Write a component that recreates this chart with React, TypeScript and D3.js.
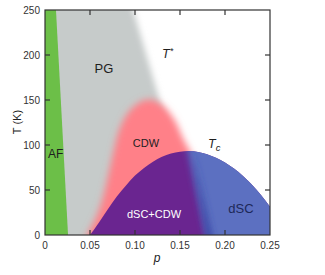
import React from "react";
import * as d3 from "d3";

// Phase boundaries of the cuprate phase diagram (hole doping p, temperature T in K)
const afP = [0.0256, 0.0122];
const afT = [0, 250];

const tStarP = [0.171, 0.098];
const tStarT = [0, 250];

const cdwP = [0.047, 0.057, 0.064, 0.07, 0.076, 0.083, 0.094, 0.108, 0.12, 0.133, 0.145, 0.153, 0.16, 0.166];
const cdwT = [0, 20, 40, 65, 92, 118, 138, 149, 150, 142, 126, 108, 95, 84];

const scP = [0.05, 0.06, 0.07, 0.08, 0.09, 0.1, 0.11, 0.12, 0.13, 0.14, 0.15, 0.16, 0.17, 0.18, 0.19, 0.2, 0.21, 0.22, 0.23, 0.24, 0.25, 0.26, 0.27];
const scT = [0, 14, 29, 43, 55, 66, 74.5, 81.5, 87, 90.5, 92.5, 93.3, 92.3, 89.8, 85.8, 80.5, 73.8, 65.5, 55.8, 44.5, 31.5, 17, 0];

// dSC+CDW / dSC crossover
const crossP = [0.178, 0.158];
const crossT = [0, 95];

const xTicks = [0, 0.05, 0.1, 0.15, 0.2, 0.25];
const xTickLabels = ["0", "0.05", "0.10", "0.15", "0.20", "0.25"];
const yTicks = [0, 50, 100, 150, 200, 250];
const yTickLabels = ["0", "50", "100", "150", "200", "250"];

const W = 325;
const H = 275;
const FONT = "'Liberation Sans', Arial, sans-serif";

export default function App() {
  const x = d3.scaleLinear().domain([0, 0.25]).range([45, 270]);
  const y = d3.scaleLinear().domain([0, 250]).range([235, 10]);

  // point on the straight line through two (p,T) pairs at temperature t
  const along = (ps: number[], ts: number[], t: number) =>
    ps[0] + ((ps[1] - ps[0]) * (t - ts[0])) / (ts[1] - ts[0]);

  const poly = (pts: [number, number][]) =>
    d3.line<[number, number]>().x((d) => x(d[0])).y((d) => y(d[1]))(pts) + "Z";

  const greenPts: [number, number][] = [
    [-0.02, -20],
    [along(afP, afT, -20), -20],
    [along(afP, afT, 280), 280],
    [-0.02, 280],
  ];

  const grayPts: [number, number][] = [
    [-0.02, -20],
    [along(tStarP, tStarT, -20), -20],
    [along(tStarP, tStarT, 290), 290],
    [-0.02, 290],
  ];

  const cdwLine = d3
    .line<number>()
    .x((_, i) => x(cdwP[i]))
    .y((_, i) => y(cdwT[i]))
    .curve(d3.curveCatmullRom);
  const cdwPath =
    "M" + x(0.04) + "," + y(-20) + "L" + x(cdwP[0]) + "," + y(cdwT[0]) +
    cdwLine(cdwP)!.slice(1).replace(/^[^LC]*/, "") +
    "L" + x(0.175) + "," + y(40) + "L" + x(0.175) + "," + y(-20) + "Z";

  const scLine = d3
    .line<number>()
    .x((_, i) => x(scP[i]))
    .y((_, i) => y(scT[i]))
    .curve(d3.curveCatmullRom);
  const scPath = scLine(scP) + "Z";

  const bluePts: [number, number][] = [
    [along(crossP, crossT, -20), -20],
    [along(crossP, crossT, 120), 120],
    [0.3, 120],
    [0.3, -20],
  ];

  const bandX1 = x(along(crossP, crossT, -10)) + 4;
  const bandY1 = y(-10);
  const bandX2 = x(along(crossP, crossT, 100)) + 4;
  const bandY2 = y(100);

  const axisColor = "#333";
  const tickLen = 5;

  return (
    <svg width={W} height={H} style={{ position: "absolute", left: 0, top: 0, background: "#fff" }}>
      <defs>
        <clipPath id="plot">
          <rect x={x(0)} y={y(250)} width={x(0.25) - x(0)} height={y(0) - y(250)} />
        </clipPath>
        <clipPath id="dome">
          <path d={scPath} />
        </clipPath>
        <filter id="blurGray" filterUnits="userSpaceOnUse" x={-50} y={-50} width={W + 100} height={H + 100}>
          <feGaussianBlur stdDeviation={3.2} />
        </filter>
        <filter id="blurPink" filterUnits="userSpaceOnUse" x={-50} y={-50} width={W + 100} height={H + 100}>
          <feGaussianBlur stdDeviation={3.5} />
        </filter>
        <filter id="blurBlue" filterUnits="userSpaceOnUse" x={-50} y={-50} width={W + 100} height={H + 100}>
          <feGaussianBlur stdDeviation={3} />
        </filter>
        <linearGradient id="bandGrad" gradientUnits="userSpaceOnUse" x1={bandX1} y1={bandY1} x2={bandX2} y2={bandY2}>
          <stop offset="0" stopColor="#2f3a9e" stopOpacity={0.85} />
          <stop offset="0.6" stopColor="#2f3a9e" stopOpacity={0.35} />
          <stop offset="1" stopColor="#2f3a9e" stopOpacity={0} />
        </linearGradient>
      </defs>

      <g clipPath="url(#plot)">
        <path d={poly(grayPts)} fill="#c6cbca" filter="url(#blurGray)" />
        <path d={poly(greenPts)} fill="#6cbf48" />
        <path d={cdwPath} fill="#ff8088" filter="url(#blurPink)" />
        <g clipPath="url(#dome)">
          <rect x={x(0)} y={y(120)} width={x(0.3) - x(0)} height={y(-20) - y(120)} fill="#6a2590" />
          <path d={poly(bluePts)} fill="#5b6fc1" filter="url(#blurBlue)" />
          <line
            x1={bandX1}
            y1={bandY1}
            x2={bandX2}
            y2={bandY2}
            stroke="url(#bandGrad)"
            strokeWidth={6}
            filter="url(#blurBlue)"
          />
        </g>
      </g>

      {/* frame */}
      <rect
        x={x(0)}
        y={y(250)}
        width={x(0.25) - x(0)}
        height={y(0) - y(250)}
        fill="none"
        stroke={axisColor}
        strokeWidth={1.2}
      />

      {/* inward ticks on all four sides */}
      {xTicks.slice(1, -1).map((t) => (
        <g key={"xt" + t}>
          <line x1={x(t)} x2={x(t)} y1={y(0)} y2={y(0) - tickLen} stroke={axisColor} strokeWidth={1.2} />
          <line x1={x(t)} x2={x(t)} y1={y(250)} y2={y(250) + tickLen} stroke={axisColor} strokeWidth={1.2} />
        </g>
      ))}
      {yTicks.slice(1, -1).map((t) => (
        <g key={"yt" + t}>
          <line x1={x(0)} x2={x(0) + tickLen} y1={y(t)} y2={y(t)} stroke={axisColor} strokeWidth={1.2} />
          <line x1={x(0.25)} x2={x(0.25) - tickLen} y1={y(t)} y2={y(t)} stroke={axisColor} strokeWidth={1.2} />
        </g>
      ))}

      {/* tick labels */}
      <g fontFamily={FONT} fontSize={10} fill="#333">
        {xTicks.map((t, i) => (
          <text key={"xl" + t} x={x(t)} y={y(0) + 14} textAnchor="middle">
            {xTickLabels[i]}
          </text>
        ))}
        {yTicks.map((t, i) => (
          <text key={"yl" + t} x={x(0) - 5} y={y(t) + 3.5} textAnchor="end">
            {yTickLabels[i]}
          </text>
        ))}
      </g>

      {/* axis titles */}
      <text x={157} y={262} fontFamily={FONT} fontSize={12} fontStyle="italic" fill="#222" textAnchor="middle">
        p
      </text>
      <text
        transform={`translate(20.5,${122}) rotate(-90)`}
        fontFamily={FONT}
        fontSize={11}
        fill="#222"
        textAnchor="middle"
      >
        T (K)
      </text>

      {/* phase labels */}
      <g fontFamily={FONT} fill="#1e1e1e">
        <text x={48} y={158} fontSize={12}>AF</text>
        <text x={104} y={73} fontSize={13} textAnchor="middle">PG</text>
        <text x={162} y={58} fontSize={12.5} fontStyle="italic">
          T<tspan fontSize={9} dy={-4}>*</tspan>
        </text>
        <text x={146} y={147} fontSize={11} textAnchor="middle">CDW</text>
        <text x={208} y={148} fontSize={12.5} fontStyle="italic">
          T<tspan fontSize={9.5} dy={3}>c</tspan>
        </text>
        <text x={154} y={218} fontSize={11} textAnchor="middle" fill="#fff">dSC+CDW</text>
        <text x={241} y={213} fontSize={13} textAnchor="middle" fill="#1c2858">dSC</text>
      </g>
    </svg>
  );
}
